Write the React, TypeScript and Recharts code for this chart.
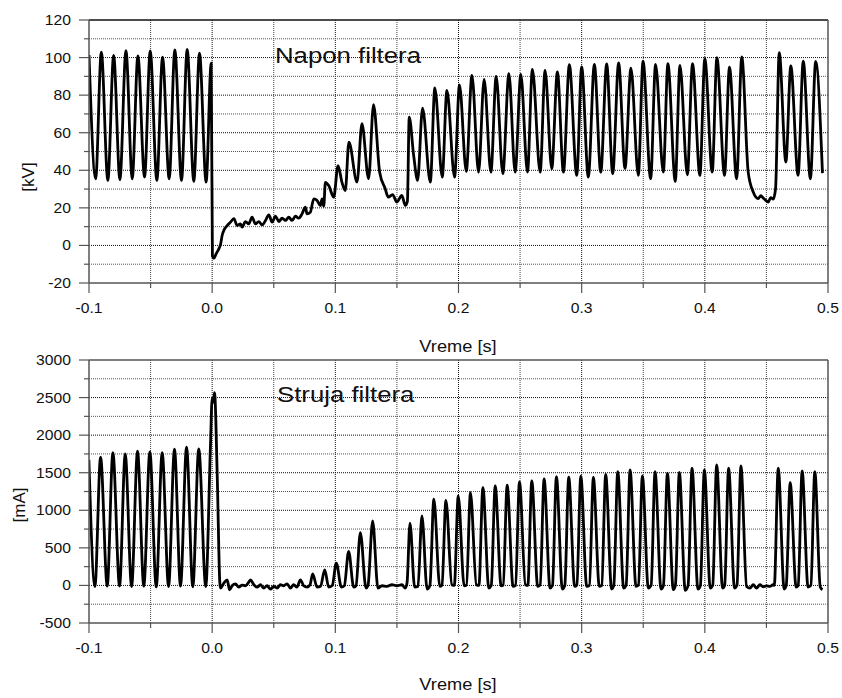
import { LineChart, Line, XAxis, YAxis, ReferenceLine } from "recharts";

// napon filtera [kV], parovi [t (s), kV]
const naponPre: [number, number][] = [
  [-0.1, 101.4], [-0.0946, 35.5], [-0.09, 102.9], [-0.0847, 34.6], [-0.08, 101.1],
  [-0.0749, 35], [-0.07, 103.7], [-0.0649, 35.5], [-0.0603, 100.9], [-0.0549, 36.4],
  [-0.0503, 103.6], [-0.0449, 34.6], [-0.0403, 100.2], [-0.0349, 35.5], [-0.0303, 104.1],
  [-0.0249, 34.6], [-0.0203, 104.3], [-0.0149, 34.1], [-0.0103, 102.3], [-0.0049, 33.7],
  [-0.0008, 97],
];

const naponPad: [number, number][] = [
  [0.0002, -5.5], [0.0014, -6.8], [0.0032, -4.5], [0.0054, -1.8], [0.0068, 0.5],
  [0.0081, 5.3], [0.0095, 8], [0.0122, 10.6], [0.0149, 12.4], [0.0176, 14.2],
  [0.0203, 10.6], [0.023, 11.5], [0.0243, 9.7], [0.027, 12.7], [0.0297, 11.5],
  [0.0324, 15], [0.0351, 11.5], [0.0378, 12.7], [0.0406, 10.9], [0.0433, 13.3],
  [0.046, 16.3], [0.0487, 12.4], [0.0514, 15.6], [0.0541, 12.7], [0.0568, 14.5],
  [0.0595, 13.3], [0.0622, 15], [0.0649, 13.3], [0.0676, 15.6], [0.0703, 14.5],
  [0.073, 16.8], [0.0757, 20.4], [0.077, 16.8], [0.0797, 17.7], [0.0825, 24.8],
  [0.0852, 23.9], [0.0879, 21.2], [0.0892, 24.8], [0.0906, 20.9], [0.0919, 33.6],
  [0.0946, 31.9], [0.0987, 25.7], [0.1022, 42.5], [0.1054, 33.6], [0.1081, 29.2],
  [0.111, 55], [0.1176, 33.7], [0.1216, 64.8], [0.127, 35.5], [0.131, 74.9],
  [0.136, 39], [0.1405, 30.2], [0.143, 25.7], [0.1465, 27], [0.15, 23.1],
  [0.154, 26.6], [0.1568, 21.3], [0.1585, 23.5],
];

const naponRast: [number, number][] = [
  [0.16, 68.3], [0.1636, 47.9], [0.1668, 34.6], [0.1708, 73.1], [0.1771, 33.7],
  [0.1808, 83.8], [0.1868, 36.4], [0.1906, 82.5], [0.1968, 36.4], [0.2008, 85.5],
  [0.2063, 39.4], [0.2109, 90.5], [0.2163, 39], [0.2208, 88.4], [0.2263, 39],
  [0.2306, 90], [0.236, 38.2], [0.2409, 91.4], [0.246, 39], [0.2506, 91],
  [0.256, 39], [0.26, 93.7], [0.2663, 39], [0.2703, 93.2], [0.2757, 40.8],
  [0.2803, 92.4], [0.2852, 39], [0.29, 96.2], [0.296, 37.3], [0.3, 95],
  [0.3054, 36.4], [0.3103, 96.4], [0.3155, 39], [0.3203, 96.6], [0.3252, 38.2],
  [0.33, 97.2], [0.3352, 41], [0.34, 94.4], [0.346, 37.3], [0.3498, 98.1],
  [0.356, 35.5], [0.36, 96.3], [0.3663, 39], [0.37, 96.7], [0.376, 34.1],
  [0.3798, 95.8], [0.3858, 37.6], [0.39, 96.7], [0.396, 37.3], [0.4, 99.4],
  [0.406, 39], [0.4098, 99.9], [0.416, 37.3], [0.42, 94.9], [0.4258, 35.5],
  [0.43, 100.3],
];

const naponPad2: [number, number][] = [
  [0.4352, 39], [0.4393, 28.4], [0.4433, 24.9], [0.4455, 26.5], [0.4474, 25.2],
  [0.4495, 24], [0.4515, 23.1], [0.4535, 25.5], [0.4555, 24.6], [0.4574, 30],
];

const naponKraj: [number, number][] = [
  [0.4604, 102.6], [0.4658, 44.4], [0.4698, 95.5], [0.4757, 37.3], [0.4799, 98.1],
  [0.4857, 35.5], [0.49, 97.9], [0.4955, 38.5],
];

// struja filtera [mA], parovi [t (s), mA]
const strujaPre: [number, number][] = [
  [-0.1001, 1671], [-0.0952, -15], [-0.0906, 1706], [-0.0852, -10], [-0.0806, 1768],
  [-0.0752, -10], [-0.0706, 1750], [-0.0654, -15], [-0.0606, 1786], [-0.0555, -10],
  [-0.0506, 1777], [-0.0454, -20], [-0.0406, 1768], [-0.0354, -15], [-0.0306, 1813],
  [-0.0257, -10], [-0.0208, 1839], [-0.0157, -20], [-0.0109, 1817], [-0.0052, -15],
  [-0.0014, 1847], [0.0, 2490], [0.0009, 2440], [0.0019, 2565], [0.0042, 1400],
  [0.0062, 40],
];

const strujaPad: [number, number][] = [
  [0.0068, -35], [0.0095, 31], [0.0122, 75], [0.0141, -58], [0.0162, -4],
  [0.0189, 22], [0.0216, -22], [0.0243, 4], [0.027, -4], [0.0292, 31],
  [0.0311, 75], [0.0338, 9], [0.0365, -22], [0.0392, 9], [0.0419, -35],
  [0.0446, -4], [0.0473, -49], [0.05, -13], [0.0527, -35], [0.0554, 9],
  [0.0581, -4], [0.0608, 22], [0.0635, -35], [0.0662, 9], [0.0689, -22],
  [0.0716, 75], [0.0743, -4], [0.077, -22], [0.0795, 10], [0.0816, 155],
  [0.0852, -22], [0.088, -10], [0.0914, 208], [0.0946, -22], [0.0975, 0],
  [0.1008, 297], [0.1049, -22], [0.1073, -4], [0.1108, 452], [0.1149, -22],
  [0.1168, -4], [0.1203, 704], [0.1249, -35], [0.1265, -4], [0.1303, 859],
  [0.1346, -35], [0.1379, -4], [0.1419, -13], [0.146, 9], [0.15, -4],
  [0.1541, 9], [0.1568, -35], [0.1582, 31], [0.1606, 828], [0.1644, -22],
  [0.1671, -13], [0.1703, 926], [0.1745, -48],
];

const strujaRast: [number, number][] = [
  [0.1768, 0], [0.18, 1148], [0.1848, -13],
  [0.1866, 5], [0.1898, 1130], [0.1946, 9],
  [0.1966, 0], [0.1998, 1192], [0.2046, -5],
  [0.2065, 5], [0.2097, 1236], [0.2145, 9],
  [0.2166, 0], [0.2198, 1302], [0.2246, -35],
  [0.2266, 0], [0.2298, 1325], [0.2346, -5],
  [0.2363, 5], [0.2395, 1334], [0.2443, -13],
  [0.2463, 0], [0.2495, 1378], [0.2543, 9],
  [0.2563, 0], [0.2595, 1391], [0.2643, -13],
  [0.2663, 5], [0.2695, 1418], [0.2743, -35],
  [0.2763, 0], [0.2795, 1449], [0.2843, -48],
  [0.2863, 0], [0.2895, 1441], [0.2943, -13],
  [0.2961, 5], [0.2993, 1454], [0.3041, -13],
  [0.3063, 0], [0.3095, 1436], [0.3143, -13],
  [0.3163, 0], [0.3195, 1478], [0.3243, -48],
  [0.3261, 0], [0.3293, 1515], [0.3341, -35],
  [0.3361, 0], [0.3393, 1538], [0.3441, -13],
  [0.3461, 5], [0.3493, 1458], [0.3541, -35],
  [0.3564, 0], [0.3596, 1515], [0.3644, -48],
  [0.3664, 0], [0.3696, 1494], [0.3744, -57],
  [0.3761, 0], [0.3793, 1503], [0.3841, -66],
  [0.3864, 0], [0.3896, 1560], [0.3944, -48],
  [0.3964, 0], [0.3996, 1538], [0.4044, -35],
  [0.4064, 0], [0.4096, 1604], [0.4144, -35],
  [0.4161, 0], [0.4193, 1560], [0.4241, -35],
  [0.4261, 0], [0.4293, 1591], [0.4339, -13],
];

const strujaPad2: [number, number][] = [
  [0.4366, -35], [0.4393, 9], [0.442, -35], [0.4447, 9], [0.4474, -20],
  [0.4501, -5], [0.4528, -13], [0.4555, 9],
];

const strujaKraj: [number, number][] = [
  [0.4564, 0], [0.4596, 1560], [0.4644, -48],
  [0.4661, 0], [0.4693, 1369], [0.4741, -22],
  [0.4758, 0], [0.479, 1524], [0.4838, -22],
  [0.4861, 0], [0.4893, 1515], [0.4937, -20], [0.4955, -57],
];

const vremeTicks = [-0.1, -0.05, 0, 0.05, 0.1, 0.15, 0.2, 0.25, 0.3, 0.35, 0.4, 0.45, 0.5];
const kvTicks = [-20, -10, 0, 10, 20, 30, 40, 50, 60, 70, 80, 90, 100, 110, 120];
const maTicks = [-500, -250, 0, 250, 500, 750, 1000, 1250, 1500, 1750, 2000, 2250, 2500, 2750, 3000];

const naponData = [...naponPre, ...naponPad, ...naponRast, ...naponPad2, ...naponKraj].map(
  ([t, kv]) => ({ t, kv })
);
const strujaData = [...strujaPre, ...strujaPad, ...strujaRast, ...strujaPad2, ...strujaKraj].map(
  ([t, ma]) => ({ t, ma })
);

const FONT = '"Liberation Sans", Arial, sans-serif';
const AXIS = "#555";
const STRETCH = 1.12; // original je malo razvucen po sirini

const isMajorX = (v: number) => Math.abs(v * 10 - Math.round(v * 10)) < 1e-6;

const XTick = (props: any) => {
  const { x, y, payload } = props;
  const major = isMajorX(payload.value);
  return (
    <g>
      <line x1={x} x2={x} y1={y} y2={y + (major ? 10 : 5)} stroke={AXIS} strokeWidth={1.2} />
      {major && (
        <text
          transform={`translate(${x},${y + 30}) scale(${STRETCH},1)`}
          textAnchor="middle"
          fontSize={14}
          fontFamily={FONT}
          fill="#111"
        >
          {payload.value.toFixed(1)}
        </text>
      )}
    </g>
  );
};

const makeYTick = (step: number) => (props: any) => {
  const { x, y, payload } = props;
  const major = payload.value % step === 0;
  return (
    <g>
      <line x1={x - (major ? 10 : 5)} x2={x} y1={y} y2={y} stroke={AXIS} strokeWidth={1.2} />
      {major && (
        <text
          transform={`translate(${x - 18},${y + 5}) scale(${STRETCH},1)`}
          textAnchor="end"
          fontSize={14}
          fontFamily={FONT}
          fill="#111"
        >
          {payload.value}
        </text>
      )}
    </g>
  );
};

function gridLines(xs: number[], ys: number[], yStep: number) {
  const out: any[] = [];
  xs.slice(1, -1).forEach((v) =>
    out.push(
      <ReferenceLine
        key={"x" + v}
        x={v}
        stroke={isMajorX(v) ? "#111" : "#444"}
        strokeDasharray="1 1"
      />
    )
  );
  ys.slice(1, -1).forEach((v) =>
    out.push(
      <ReferenceLine
        key={"y" + v}
        y={v}
        stroke={v % yStep === 0 ? "#111" : "#555"}
        strokeDasharray="1 1"
      />
    )
  );
  return out;
}

export default function App() {
  return (
    <div style={{ position: "absolute", left: 0, top: 0, width: 842, height: 698, background: "#fff" }}>
      <div style={{ position: "absolute", left: 0, top: 0 }}>
        <LineChart width={842} height={362} data={naponData} margin={{ top: 20, right: 14, left: 0, bottom: 0 }}>
          <XAxis
            dataKey="t"
            type="number"
            domain={[-0.1, 0.5]}
            ticks={vremeTicks}
            interval={0}
            tickSize={0}
            tickMargin={0}
            tickLine={false}
            tick={<XTick />}
            height={79}
            allowDataOverflow
            axisLine={{ stroke: AXIS, strokeWidth: 1.5 }}
          />
          <YAxis
            type="number"
            domain={[-20, 120]}
            ticks={kvTicks}
            interval={0}
            tickSize={0}
            tickMargin={0}
            tickLine={false}
            tick={makeYTick(20)}
            width={89}
            allowDataOverflow
            axisLine={{ stroke: AXIS, strokeWidth: 1.5 }}
          />
          {gridLines(vremeTicks, kvTicks, 20)}
          <ReferenceLine y={120} stroke="#111" strokeWidth={1.5} />
          <ReferenceLine x={0.5} stroke={AXIS} strokeWidth={1.5} />
          <Line
            type="monotone"
            dataKey="kv"
            stroke="#000"
            strokeWidth={2.8}
            dot={false}
            isAnimationActive={false}
          />
        </LineChart>
      </div>
      <div style={{ position: "absolute", left: 0, top: 345 }}>
        <LineChart width={842} height={353} data={strujaData} margin={{ top: 15, right: 14, left: 0, bottom: 0 }}>
          <XAxis
            dataKey="t"
            type="number"
            domain={[-0.1, 0.5]}
            ticks={vremeTicks}
            interval={0}
            tickSize={0}
            tickMargin={0}
            tickLine={false}
            tick={<XTick />}
            height={75}
            allowDataOverflow
            axisLine={{ stroke: AXIS, strokeWidth: 1.5 }}
          />
          <YAxis
            type="number"
            domain={[-500, 3000]}
            ticks={maTicks}
            interval={0}
            tickSize={0}
            tickMargin={0}
            tickLine={false}
            tick={makeYTick(500)}
            width={89}
            allowDataOverflow
            axisLine={{ stroke: AXIS, strokeWidth: 1.5 }}
          />
          {gridLines(vremeTicks, maTicks, 500)}
          <ReferenceLine y={3000} stroke={AXIS} strokeWidth={1.5} />
          <ReferenceLine x={0.5} stroke={AXIS} strokeWidth={1.5} />
          <Line
            type="monotone"
            dataKey="ma"
            stroke="#000"
            strokeWidth={2.8}
            dot={false}
            isAnimationActive={false}
          />
        </LineChart>
      </div>
      <svg
        width={842}
        height={698}
        style={{ position: "absolute", left: 0, top: 0, pointerEvents: "none" }}
        fontFamily={FONT}
        fill="#111"
      >
        <text transform={`translate(275,63) scale(${STRETCH},1)`} fontSize={23}>
          Napon filtera
        </text>
        <text transform={`translate(277,402) scale(${STRETCH},1)`} fontSize={23}>
          Struja filtera
        </text>
        <text transform={`translate(458,352) scale(1.14,1)`} fontSize={16} textAnchor="middle">
          Vreme [s]
        </text>
        <text transform={`translate(458,690) scale(1.14,1)`} fontSize={16} textAnchor="middle">
          Vreme [s]
        </text>
        <text transform="translate(34,177) rotate(-90)" fontSize={17} textAnchor="middle">
          [kV]
        </text>
        <text transform="translate(25,505) rotate(-90)" fontSize={17} textAnchor="middle">
          [mA]
        </text>
      </svg>
    </div>
  );
}
